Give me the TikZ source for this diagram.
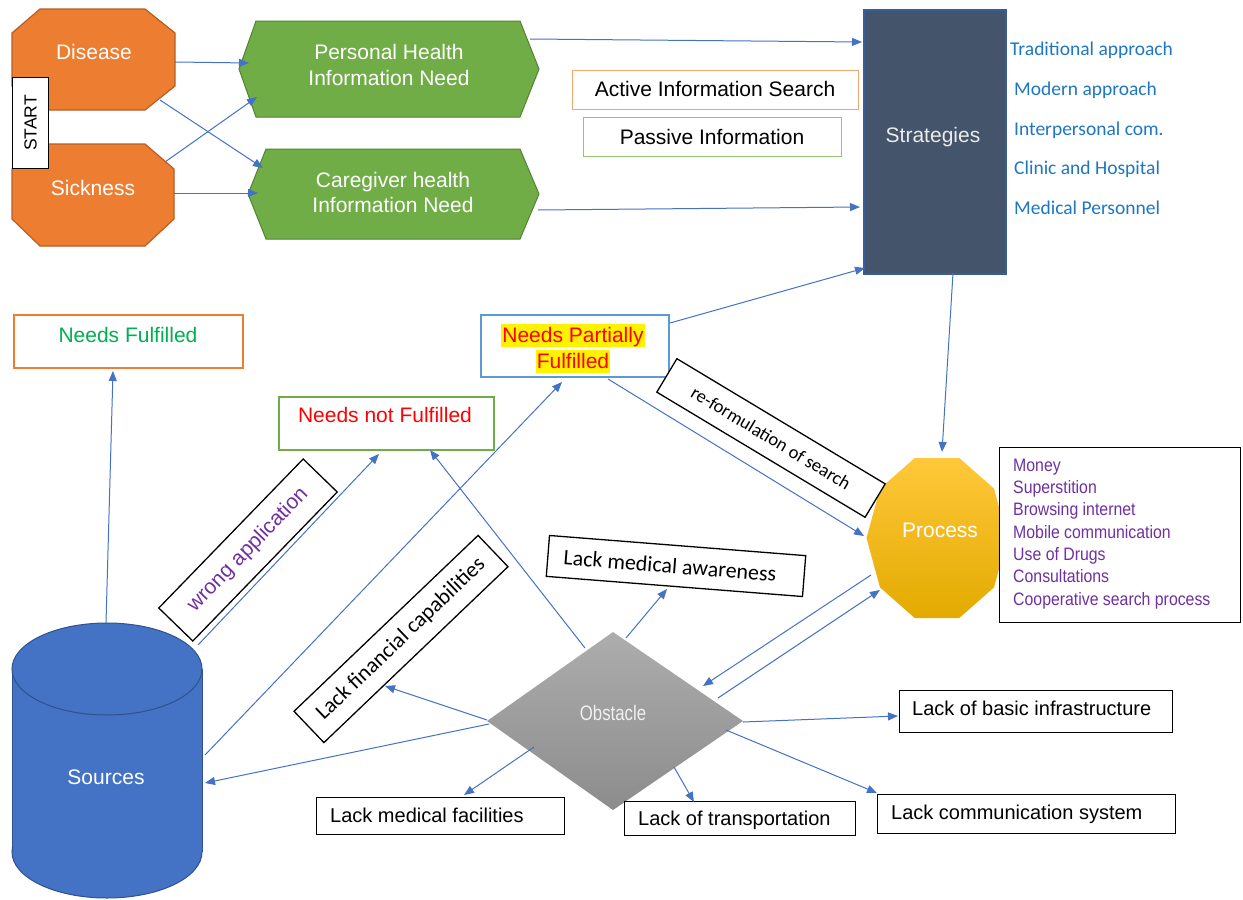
\documentclass[tikz,border=0pt]{standalone}
\usepackage{fontspec}
\setmainfont{Liberation Sans}
\newfontfamily\calfont{Carlito}
\newfontfamily\narrowfont[FakeStretch=0.88]{Liberation Sans}
\newfontfamily\condfont[FakeStretch=0.8]{Liberation Sans}
\usetikzlibrary{arrows.meta}

\definecolor{orgfill}{HTML}{ED7D31}
\definecolor{orgline}{HTML}{B85F22}
\definecolor{grnfill}{HTML}{70AD47}
\definecolor{grnline}{HTML}{548235}
\definecolor{slate}{HTML}{44546A}
\definecolor{slateline}{HTML}{3B5C9A}
\definecolor{arrowblue}{HTML}{4472C4}
\definecolor{stratblue}{HTML}{1E77C2}
\definecolor{purp}{HTML}{7030A0}
\definecolor{okgreen}{HTML}{00B050}
\definecolor{srcfill}{HTML}{4472C4}
\definecolor{srcline}{HTML}{2F528F}
\definecolor{boxorange}{HTML}{ED7D31}
\definecolor{lightorange}{HTML}{F4A46E}
\definecolor{lightgreen}{HTML}{92C76E}
\definecolor{boxgreen}{HTML}{70AD47}
\definecolor{boxblue}{HTML}{5B9BD5}
\definecolor{procTop}{HTML}{FFC83A}
\definecolor{procBot}{HTML}{E3AA00}
\definecolor{obsTop}{HTML}{ADADAD}
\definecolor{obsBot}{HTML}{8C8C8C}

\tikzset{
  lbl/.style={anchor=base, inner sep=0pt, font=\fontsize{21}{25}\selectfont},
  lblw/.style={anchor=base west, inner sep=0pt, font=\fontsize{20}{24}\selectfont},
  stratitem/.style={anchor=base west, inner sep=0pt, text=stratblue, font=\calfont\fontsize{19.5}{23}\selectfont},
  procitem/.style={anchor=base west, inner sep=0pt, text=purp, font=\narrowfont\fontsize{18}{21}\selectfont},
  conn/.style={draw=arrowblue, line width=1pt, -{Triangle[length=10pt,width=8pt]}},
  frame/.style={anchor=north west, inner sep=0pt, fill=white, line width=1.3pt},
  tilted/.style={draw=black, fill=white, line width=1.3pt, inner sep=0pt},
  highlight/.style={anchor=base, fill=yellow, text=red, inner xsep=1pt, inner ysep=0pt,
    text height=19pt, text depth=4pt, font=\fontsize{21}{25}\selectfont}
}

\begin{document}
\begin{tikzpicture}[x=1pt,y=-1pt,line join=miter]
\fill[white] (0,0) rectangle (1243,900);
\path[use as bounding box] (0,0) rectangle (1243,900);

% ---------- start shapes ----------
\filldraw[fill=orgfill, draw=orgline, line width=1.2pt]
  (40,9) -- (145,9) -- (175,33) -- (175,86) -- (145,110) -- (40,110) -- (12,86) -- (12,33) -- cycle;
\node[lbl, text=white] (dis) at (94,59.5) {Disease};
\filldraw[fill=orgfill, draw=orgline, line width=1.2pt]
  (40,144) -- (145,144) -- (174,169) -- (174,219) -- (145,246) -- (40,246) -- (12,219) -- (12,169) -- cycle;
\node[lbl, text=white] (sick) at (93,195.5) {Sickness};

\node[frame, draw=black, line width=1.2pt, minimum width=36pt, minimum height=91pt] (startbox) at (12,77) {};
\node[rotate=90, inner sep=0pt, font=\fontsize{17.5}{20}\selectfont] (start) at (startbox.center) {START};

% ---------- information needs ----------
\filldraw[fill=grnfill, draw=grnline, line width=1pt]
  (239,69) -- (256,21) -- (520,21) -- (539,69) -- (520,117) -- (256,117) -- cycle;
\node[lbl, text=white] (ph1) at (389,59.5) {Personal Health};
\node[lbl, text=white] (ph2) at (389,85) {Information Need};
\filldraw[fill=grnfill, draw=grnline, line width=1pt]
  (248,194) -- (266,149) -- (520,149) -- (539,194) -- (520,239) -- (266,239) -- cycle;
\node[lbl, text=white] (cg1) at (393,187.5) {Caregiver health};
\node[lbl, text=white] (cg2) at (393,212) {Information Need};

% ---------- search type boxes ----------
\node[frame, draw=lightorange, minimum width=286pt, minimum height=39pt] (active) at (572,70) {};
\node[lbl] (activetxt) at (715,96.5) {Active Information Search};
\node[frame, draw=lightgreen, minimum width=258pt, minimum height=39pt] (passive) at (583,117) {};
\node[lbl] (passivetxt) at (712,144.5) {Passive Information};

% ---------- strategies ----------
\node[anchor=north west, inner sep=0pt, fill=slate, draw=slateline, line width=1.5pt,
      minimum width=142pt, minimum height=264pt] (strat) at (863,9) {};
\node[lbl, text=white!92!black] (strattxt) at (933,142.5) {Strategies};
\node[stratitem] (s1) at (1010,55) {Traditional approach};
\node[stratitem] (s2) at (1014,95) {Modern approach};
\node[stratitem] (s3) at (1014,135) {Interpersonal com.};
\node[stratitem] (s4) at (1014,174.5) {Clinic and Hospital};
\node[stratitem] (s5) at (1014,214) {Medical Personnel};

% ---------- outcomes ----------
\node[frame, draw=boxorange, line width=1.8pt, minimum width=229pt, minimum height=53pt] (nf) at (13,314) {};
\node[lbl, text=okgreen] (nftxt) at (128,342.5) {Needs Fulfilled};
\node[frame, draw=boxblue, line width=1.8pt, minimum width=188pt, minimum height=62pt] (npf) at (480,314) {};
\node[highlight] (npf1) at (573,342.5) {Needs Partially};
\node[highlight] (npf2) at (573,368.5) {Fulfilled};
\node[frame, draw=boxgreen, line width=1.8pt, minimum width=215pt, minimum height=53pt] (nnf) at (278,396) {};
\node[lbl, text=red] (nnftxt) at (385,422.5) {Needs not Fulfilled};

% ---------- process ----------
\shade[top color=procTop, bottom color=procBot]
  (1007.5,538) -- (994,488.6) -- (959.3,458) -- (914.7,458) -- (880,488.6) -- (866.5,538)
  -- (880,587.4) -- (914.7,618) -- (959.3,618) -- (994,587.4) -- cycle;
\node[lbl, text=white] (proc) at (940,537.5) {Process};
\node[frame, draw=black, minimum width=241pt, minimum height=175pt] (proclist) at (999,447) {};
\node[procitem] (p1) at (1013,471) {Money};
\node[procitem] (p2) at (1013,493.3) {Superstition};
\node[procitem] (p3) at (1013,515.6) {Browsing internet};
\node[procitem] (p4) at (1013,538) {Mobile communication};
\node[procitem] (p5) at (1013,560.3) {Use of Drugs};
\node[procitem] (p6) at (1013,582.6) {Consultations};
\node[procitem] (p7) at (1013,605) {Cooperative search process};

\node[tilted, rotate=-31, minimum width=243pt, minimum height=39pt,
      font=\calfont\fontsize{18.5}{22}\selectfont] (reform) at (771,438) {re-formulation of search};

% ---------- sources ----------
\filldraw[fill=srcfill, draw=srcline, line width=1pt] (107,852) ellipse [x radius=95, y radius=46];
\fill[srcfill] (12,669) rectangle (202,852);
\draw[srcline, line width=1pt] (12,669) -- (12,852) (202,669) -- (202,852);
\filldraw[fill=srcfill, draw=srcline, line width=1pt] (107,669) ellipse [x radius=95, y radius=46];
\node[lbl, text=white] (src) at (106,784.5) {Sources};

\node[tilted, rotate=45.9, minimum width=207.5pt, minimum height=47.4pt, text=purp,
      font=\fontsize{21}{25}\selectfont] (wrong) at (248,550) {wrong application};

% ---------- obstacle ----------
\shade[top color=obsTop, bottom color=obsBot] (613,632) -- (743,721) -- (613,810) -- (487,721) -- cycle;
\node[anchor=base, inner sep=0pt, text=white!94!black, font=\condfont\fontsize{21}{25}\selectfont] (obs) at (613,720.5) {Obstacle};

\node[tilted, rotate=43.7, minimum width=254.6pt, minimum height=43.3pt,
      font=\calfont\fontsize{22}{26}\selectfont] (lfc) at (401,639) {Lack financial capabilities};
\node[tilted, rotate=-4.5, minimum width=257pt, minimum height=41pt,
      font=\calfont\fontsize{22}{26}\selectfont] (lma) at (676,566) {\hspace*{-12pt}Lack medical awareness};

\node[frame, draw=black, minimum width=248pt, minimum height=37pt] (lmf) at (316,797) {};
\node[lblw] (lmftxt) at (330,822.5) {Lack medical facilities};
\node[frame, draw=black, minimum width=231pt, minimum height=34pt] (lot) at (624,801) {};
\node[lblw] (lottxt) at (638,825.5) {Lack of transportation};
\node[frame, draw=black, minimum width=273pt, minimum height=42pt] (lbi) at (899,690) {};
\node[lblw] (lbitxt) at (912,715.5) {Lack of basic infrastructure};
\node[frame, draw=black, minimum width=298pt, minimum height=39pt] (lcs) at (877,794) {};
\node[lblw] (lcstxt) at (891,819.5) {Lack communication system};

% ---------- connector end points ----------
\coordinate (dis-e) at (175,62);   \coordinate (dis-se) at (160,100);
\coordinate (sick-ne) at (165,162); \coordinate (sick-e) at (174,193);
\coordinate (ph-w) at (249,63);    \coordinate (ph-sw) at (257,97);
\coordinate (cg-nw) at (263,168);  \coordinate (cg-w) at (258,193);
\coordinate (ph-e) at (530,39);    \coordinate (cg-e) at (538,210);
\coordinate (strat-w1) at (862,42); \coordinate (strat-w2) at (860,207);
\coordinate (strat-sw) at (865,268); \coordinate (strat-s) at (953,273);
\coordinate (npf-e) at (670,323);  \coordinate (npf-s) at (608,379); \coordinate (npf-sw) at (562,382);
\coordinate (proc-n) at (942,452); \coordinate (proc-w) at (864,536);
\coordinate (proc-sw1) at (871,575); \coordinate (proc-sw2) at (880,590);
\coordinate (obs-ne1) at (703,686); \coordinate (obs-ne2) at (718,698);
\coordinate (src-n) at (106,623);  \coordinate (nf-s) at (113,371);
\coordinate (src-ne) at (198,645); \coordinate (nnf-s1) at (379,454);
\coordinate (src-e) at (205,755);  \coordinate (src-e2) at (205,783);
\coordinate (obs-nw) at (585,648); \coordinate (nnf-s2) at (430,450);
\coordinate (obs-w) at (487,720);  \coordinate (obs-w2) at (489,724);
\coordinate (lfc-e) at (385,686);
\coordinate (obs-n) at (626,638);  \coordinate (lma-s) at (667,589);
\coordinate (obs-sw) at (534,747); \coordinate (lmf-n) at (464,795);
\coordinate (obs-s) at (674,767);  \coordinate (lot-n) at (694,802);
\coordinate (obs-se) at (726,730); \coordinate (lcs-n) at (877,793);
\coordinate (obs-e) at (743,722);  \coordinate (lbi-w) at (898,716);

% ---------- connectors ----------
\draw[conn] (dis-e) -- (ph-w);
\draw[conn] (dis-se) -- (cg-nw);
\draw[conn] (sick-ne) -- (ph-sw);
\draw[conn] (sick-e) -- (cg-w);
\draw[conn] (ph-e) -- (strat-w1);
\draw[conn] (cg-e) -- (strat-w2);
\draw[conn] (npf-e) -- (strat-sw);
\draw[conn] (strat-s) -- (proc-n);
\draw[conn] (npf-s) -- (proc-w);
\draw[conn] (proc-sw1) -- (obs-ne1);
\draw[conn] (obs-ne2) -- (proc-sw2);
\draw[conn] (src-n) -- (nf-s);
\draw[conn] (src-ne) -- (nnf-s1);
\draw[conn] (src-e) -- (npf-sw);
\draw[conn] (obs-nw) -- (nnf-s2);
\draw[conn] (obs-w) -- (lfc-e);
\draw[conn] (obs-w2) -- (src-e2);
\draw[conn] (obs-n) -- (lma-s);
\draw[conn] (obs-sw) -- (lmf-n);
\draw[conn] (obs-s) -- (lot-n);
\draw[conn] (obs-se) -- (lcs-n);
\draw[conn] (obs-e) -- (lbi-w);
\end{tikzpicture}
\end{document}
